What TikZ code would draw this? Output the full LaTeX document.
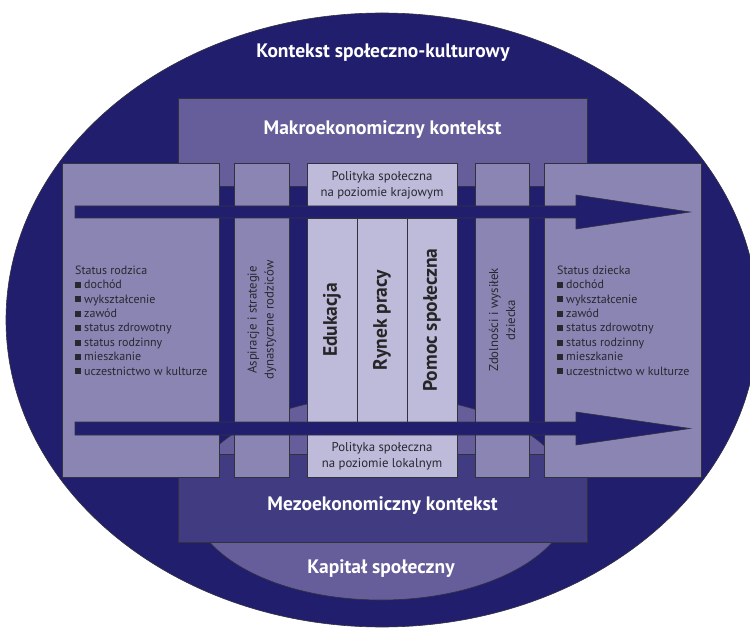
\documentclass[tikz,border=0pt]{standalone}
\usepackage{fontspec}
\setmainfont{PT Sans}
\usetikzlibrary{shapes.geometric}
\definecolor{navy}{RGB}{34,30,110}
\definecolor{makro}{RGB}{101,94,154}
\definecolor{mezo}{RGB}{65,60,130}
\definecolor{colfill}{RGB}{138,133,179}
\definecolor{lightfill}{RGB}{189,186,218}
\definecolor{edge}{RGB}{50,50,62}
\definecolor{txt}{RGB}{40,40,48}
\newcommand{\sq}{{\color{txt}\rule[0.6pt]{6pt}{6pt}}\hspace{3pt}}
\begin{document}
\begin{tikzpicture}[x=1pt,y=-1pt,
  box/.style={draw=edge,line width=0.8pt,inner sep=0pt,outer sep=0pt},
  colbox/.style={box,fill=colfill},
  lightbox/.style={box,fill=lightfill},
  bigtitle/.style={text=white,font=\fontsize{19.5}{22}\selectfont\bfseries,inner sep=0pt},
  small/.style={text=txt,font=\fontsize{12.8}{16}\selectfont,align=center,inner sep=0pt},
  listtxt/.style={text=txt,font=\fontsize{12}{14.4}\selectfont,align=left,inner sep=0pt,anchor=west},
  vbold/.style={text=black!85,font=\fontsize{19.5}{22}\selectfont\bfseries,rotate=90,inner sep=0pt},
  vtxt/.style={text=txt,font=\fontsize{12.8}{17}\selectfont,rotate=90,align=center,inner sep=0pt},
  arrowshape/.style={fill=navy,draw=edge,line width=0.6pt}]
\useasboundingbox (0,0) rectangle (750,628);
% outer context
\node[draw=edge,line width=0.6pt,fill=navy,ellipse,minimum width=752pt,minimum height=614pt,inner sep=0pt] (outer) at (382,320) {};
\node[bigtitle] (kult) at (383,53) {Kontekst społeczno-kulturowy};
% social capital ellipse
\node[draw=edge,line width=0.6pt,fill=makro,ellipse,minimum width=380pt,minimum height=204pt,inner sep=0pt] (kap) at (381,498) {};
% macro and meso contexts
\node[box,fill=makro,minimum width=409pt,minimum height=88pt] (makro) at (382.5,142) {};
\node[box,fill=mezo,minimum width=409pt,minimum height=88pt] (mezo) at (382.5,498) {};
% columns
\node[colbox,minimum width=157pt,minimum height=314pt] (lcol) at (140.5,320) {};
\node[colbox,minimum width=55pt,minimum height=314pt] (asp) at (261.5,320) {};
\node[lightbox,minimum width=150pt,minimum height=314pt] (mid) at (382,320) {};
\node[colbox,minimum width=54pt,minimum height=314pt] (zdol) at (502,320) {};
\node[colbox,minimum width=157pt,minimum height=314pt] (rcol) at (622.5,320) {};
% internal separators of the middle block
\coordinate (s1t) at (357,218); \coordinate (s1b) at (357,422);
\coordinate (s2t) at (407,218); \coordinate (s2b) at (407,422);
\draw[edge,line width=0.8pt] (s1t) -- (s1b) (s2t) -- (s2b);
\draw[edge,line width=0.8pt] (mid.west |- s1t) -- (mid.east |- s1t);
\draw[edge,line width=0.8pt] (mid.west |- s1b) -- (mid.east |- s1b);
% arrows
\coordinate (a1) at (75,212); \coordinate (a1tip) at (690,212);
\coordinate (a2) at (75,428.5); \coordinate (a2tip) at (690,428.5);
\draw[arrowshape] (a1) ++(0,-6) -- (576,206) -- (576,195) -- (a1tip) -- (576,229) -- (576,218) -- (75,218) -- cycle;
\draw[arrowshape] (a2) ++(0,-6.5) -- (576,422) -- (576,412) -- (a2tip) -- (576,445) -- (576,435) -- (75,435) -- cycle;
% texts
\node[bigtitle] (tmakro) at (makro.center |- 0,130) {Makroekonomiczny kontekst};
\node[bigtitle] (tmezo) at (382.5,506) {Mezoekonomiczny kontekst};
\node[bigtitle] (tkap) at (381,569) {Kapitał społeczny};
\node[small] (polk) at (382,185) {Polityka społeczna\\na poziomie krajowym};
\node[small] (poll) at (382,456) {Polityka społeczna\\na poziomie lokalnym};
\node[vbold] (edu) at (332,320) {Edukacja};
\node[vbold] (ryn) at (382,320) {Rynek pracy};
\node[vbold] (pom) at (432,320) {Pomoc społeczna};
\node[vtxt] (tasp) at (262,320) {Aspiracje i strategie\\dynastyczne rodziców};
\node[vtxt] (tzdol) at (502,320) {Zdolności i wysiłek\\dziecka};
\node[listtxt] (lrod) at (75,320.5) {Status rodzica\\\sq dochód\\\sq wykształcenie\\\sq zawód\\\sq status zdrowotny\\\sq status rodzinny\\\sq mieszkanie\\\sq uczestnictwo w kulturze};
\node[listtxt] (ldz) at (557,320.5) {Status dziecka\\\sq dochód\\\sq wykształcenie\\\sq zawód\\\sq status zdrowotny\\\sq status rodzinny\\\sq mieszkanie\\\sq uczestnictwo w kulturze};
\end{tikzpicture}
\end{document}
